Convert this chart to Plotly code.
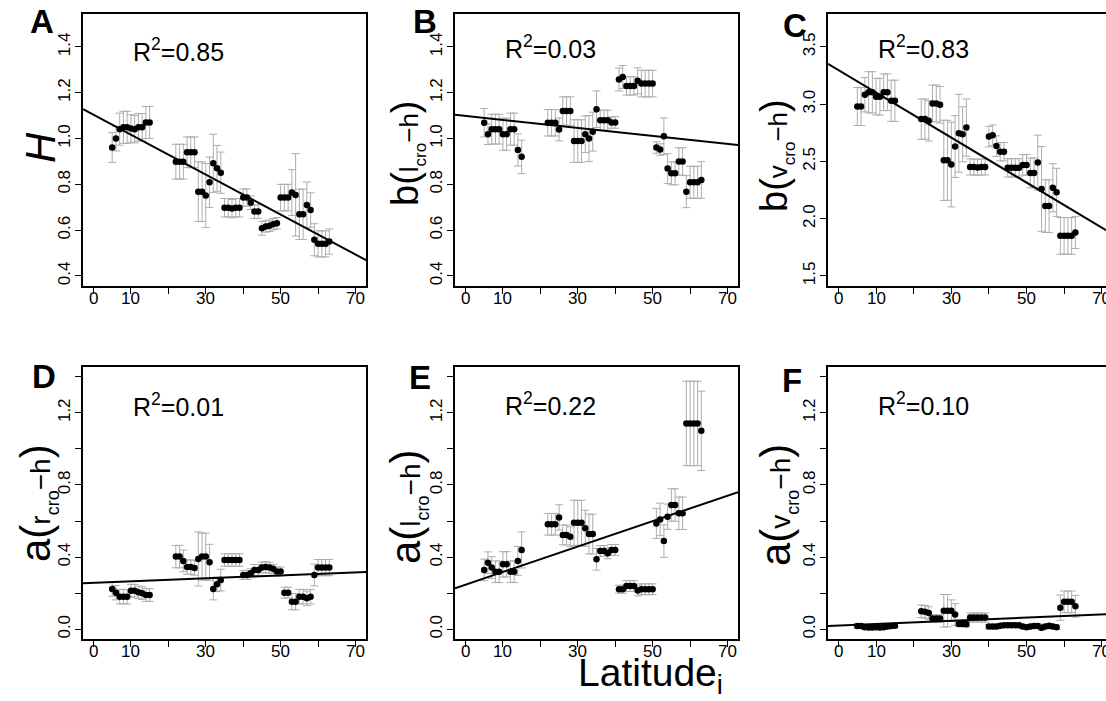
import plotly.graph_objects as go

# ---------------- data ----------------
lat = [5, 6, 7, 8, 9, 10, 11, 12, 13, 14, 15,
       22, 23, 24, 25, 26, 27, 28, 29, 30, 31, 32, 33, 34, 35, 36, 37, 38, 39, 40,
       41, 42, 43, 44, 45, 46, 47, 48, 49, 50, 51, 52, 53, 54, 55, 56, 57, 58, 59,
       60, 61, 62, 63]

H_val = [0.961, 1.00, 1.041, 1.049, 1.049, 1.044, 1.041, 1.049, 1.049, 1.07, 1.07,
         0.899, 0.899, 0.899, 0.94, 0.94, 0.94, 0.768, 0.768, 0.751, 0.809, 0.892, 0.870, 0.851,
         0.698, 0.698, 0.694, 0.698, 0.698, 0.742, 0.742, 0.72, 0.681, 0.681, 0.608, 0.616,
         0.619, 0.626, 0.63, 0.742, 0.742, 0.742, 0.764, 0.754, 0.669, 0.669, 0.71, 0.688,
         0.558, 0.54, 0.54, 0.54, 0.55]
H_err = [0.065, 0.054, 0.07, 0.07, 0.07, 0.06, 0.06, 0.06, 0.06, 0.07, 0.07,
         0.076, 0.076, 0.076, 0.067, 0.067, 0.067, 0.13, 0.13, 0.14, 0.11, 0.127, 0.10, 0.09,
         0.04, 0.04, 0.04, 0.04, 0.04, 0.038, 0.038, 0.03, 0.03, 0.03, 0.03, 0.025,
         0.025, 0.025, 0.025, 0.058, 0.058, 0.058, 0.10, 0.18, 0.11, 0.11, 0.10, 0.075,
         0.07, 0.057, 0.057, 0.057, 0.055]

bl_val = [1.069, 1.019, 1.041, 1.041, 1.041, 1.019, 1.019, 1.041, 1.041, 0.95, 0.92,
          1.069, 1.069, 1.069, 1.04, 1.12, 1.12, 1.12, 0.989, 0.989, 0.989, 1.019, 1.0, 1.03,
          1.128, 1.08, 1.08, 1.08, 1.07, 1.07, 1.258, 1.269, 1.23, 1.23, 1.23, 1.252,
          1.24, 1.24, 1.24, 1.24, 0.961, 0.952, 1.01, 0.869, 0.848, 0.848, 0.90, 0.90,
          0.768, 0.809, 0.809, 0.809, 0.819]
bl_err = [0.062, 0.045, 0.065, 0.065, 0.065, 0.07, 0.07, 0.07, 0.07, 0.07, 0.073,
          0.058, 0.058, 0.058, 0.05, 0.062, 0.062, 0.062, 0.093, 0.093, 0.093, 0.08, 0.10, 0.085,
          0.08, 0.044, 0.044, 0.044, 0.025, 0.025, 0.05, 0.05, 0.04, 0.04, 0.04, 0.057,
          0.058, 0.058, 0.058, 0.058, 0.025, 0.025, 0.08, 0.065, 0.05, 0.05, 0.06, 0.06,
          0.07, 0.07, 0.07, 0.07, 0.08]

bv_val = [2.98, 2.98, 3.083, 3.104, 3.104, 3.066, 3.066, 3.104, 3.104, 3.03, 3.03,
          2.87, 2.87, 2.855, 3.007, 3.007, 2.995, 2.51, 2.51, 2.473, 2.63, 2.746, 2.737, 2.796,
          2.452, 2.452, 2.448, 2.452, 2.452, 2.717, 2.728, 2.634, 2.585, 2.585, 2.444, 2.444,
          2.444, 2.444, 2.47, 2.47, 2.40, 2.40, 2.49, 2.26, 2.11, 2.11, 2.27, 2.23,
          1.85, 1.85, 1.85, 1.85, 1.88]
bv_err = [0.166, 0.166, 0.15, 0.18, 0.18, 0.16, 0.16, 0.16, 0.16, 0.18, 0.18,
          0.176, 0.176, 0.176, 0.16, 0.16, 0.16, 0.35, 0.35, 0.37, 0.27, 0.34, 0.24, 0.25,
          0.07, 0.07, 0.07, 0.07, 0.07, 0.09, 0.09, 0.09, 0.08, 0.08, 0.08, 0.08,
          0.08, 0.08, 0.09, 0.09, 0.13, 0.13, 0.24, 0.37, 0.23, 0.23, 0.21, 0.21,
          0.16, 0.16, 0.16, 0.16, 0.14]

ar_val = [0.223, 0.203, 0.181, 0.181, 0.181, 0.214, 0.214, 0.205, 0.20, 0.19, 0.19,
          0.403, 0.403, 0.379, 0.345, 0.345, 0.340, 0.39, 0.403, 0.403, 0.371, 0.223, 0.249, 0.273,
          0.384, 0.384, 0.384, 0.384, 0.384, 0.301, 0.301, 0.31, 0.329, 0.329, 0.342, 0.345,
          0.342, 0.335, 0.32, 0.32, 0.203, 0.203, 0.153, 0.153, 0.181, 0.181, 0.172, 0.181,
          0.301, 0.342, 0.342, 0.342, 0.342]
ar_err = [0.04, 0.04, 0.04, 0.04, 0.04, 0.035, 0.035, 0.035, 0.035, 0.035, 0.035,
          0.062, 0.062, 0.06, 0.04, 0.04, 0.04, 0.15, 0.13, 0.13, 0.10, 0.06, 0.04, 0.06,
          0.035, 0.035, 0.035, 0.035, 0.035, 0.025, 0.025, 0.025, 0.03, 0.03, 0.03, 0.03,
          0.03, 0.025, 0.025, 0.025, 0.03, 0.03, 0.045, 0.045, 0.04, 0.04, 0.04, 0.04,
          0.06, 0.045, 0.045, 0.045, 0.045]

al_val = [0.329, 0.369, 0.342, 0.319, 0.319, 0.36, 0.36, 0.319, 0.319, 0.379, 0.44,
          0.582, 0.582, 0.582, 0.62, 0.523, 0.523, 0.513, 0.59, 0.59, 0.59, 0.56, 0.528, 0.528,
          0.388, 0.434, 0.434, 0.421, 0.44, 0.44, 0.222, 0.222, 0.24, 0.24, 0.24, 0.215,
          0.222, 0.222, 0.222, 0.222, 0.587, 0.609, 0.489, 0.624, 0.689, 0.689, 0.643, 0.643,
          1.141, 1.141, 1.141, 1.141, 1.10]
al_err = [0.06, 0.06, 0.06, 0.06, 0.06, 0.07, 0.07, 0.06, 0.06, 0.08, 0.10,
          0.06, 0.06, 0.06, 0.07, 0.055, 0.055, 0.055, 0.125, 0.125, 0.125, 0.10, 0.11, 0.11,
          0.06, 0.03, 0.03, 0.03, 0.03, 0.03, 0.022, 0.022, 0.03, 0.03, 0.03, 0.03,
          0.03, 0.03, 0.03, 0.03, 0.083, 0.09, 0.09, 0.07, 0.09, 0.09, 0.09, 0.09,
          0.234, 0.234, 0.234, 0.234, 0.22]

av_val = [0.018, 0.018, 0.012, 0.01, 0.01, 0.012, 0.01, 0.012, 0.015, 0.018, 0.02,
          0.10, 0.097, 0.09, 0.06, 0.06, 0.06, 0.103, 0.103, 0.103, 0.082, 0.03, 0.03, 0.028,
          0.065, 0.065, 0.065, 0.065, 0.065, 0.015, 0.015, 0.015, 0.02, 0.022, 0.022, 0.022,
          0.022, 0.022, 0.015, 0.012, 0.015, 0.018, 0.018, 0.008, 0.015, 0.02, 0.015, 0.012,
          0.12, 0.152, 0.152, 0.152, 0.128]
av_err = [0.012, 0.012, 0.012, 0.012, 0.012, 0.012, 0.012, 0.012, 0.012, 0.012, 0.012,
          0.035, 0.035, 0.035, 0.02, 0.02, 0.02, 0.09, 0.09, 0.06, 0.06, 0.015, 0.015, 0.015,
          0.025, 0.025, 0.025, 0.025, 0.025, 0.012, 0.012, 0.012, 0.012, 0.012, 0.012, 0.012,
          0.012, 0.012, 0.012, 0.012, 0.012, 0.012, 0.012, 0.012, 0.012, 0.012, 0.012, 0.012,
          0.07, 0.06, 0.06, 0.06, 0.06]

# regression lines (intercept, slope) and R2 labels
fit_A = (1.104, -0.00872)
fit_B = (1.099, -0.00175)
fit_C = (3.298, -0.01965)
fit_D = (0.258, 0.00082)
fit_E = (0.2475, 0.00704)
fit_F = (0.0205, 0.00088)
r2_labels = ["0.85", "0.03", "0.83", "0.01", "0.22", "0.10"]

x_ticks = [0, 10, 20, 30, 40, 50, 60, 70]
x_ticktext = ["0", "10", "", "30", "", "50", "", "70"]

# ---------------- layout helpers ----------------
W, Hh = 1106, 701
FONT = "Liberation Sans, Arial, sans-serif"


def px_x(v):
    return v / W


def px_y(v):
    return 1 - v / Hh


def ylabel(main, sub, s1, s2):
    return (f'{main}(<span style="font-size:{s1}px">{sub}</span>'
            f'<sub><span style="font-size:{s2}px">cro</span></sub>'
            f'<span style="font-size:{s1}px">−h</span>)')


panels = [
    dict(letter="A", vals=H_val, errs=H_err, fit=fit_A, xd=(83, 366), yd=(14, 286),
         xr=(-2.8, 72.8), yr=(0.356, 1.544), yt=[0.4, 0.6, 0.8, 1.0, 1.2, 1.4],
         ytt=["0.4", "0.6", "0.8", "1.0", "1.2", "1.4"], r2y=1.385,
         ylab="<i>H</i>", ylab_pos=(40, 148), ylab_size=42, let_pos=(42, 21), mirror=True),
    dict(letter="B", vals=bl_val, errs=bl_err, fit=fit_B, xd=(455, 738), yd=(14, 286),
         xr=(-2.8, 72.8), yr=(0.356, 1.544), yt=[0.4, 0.6, 0.8, 1.0, 1.2, 1.4],
         ytt=["0.4", "0.6", "0.8", "1.0", "1.2", "1.4"], r2y=1.40,
         ylab=ylabel("b", "l", 26, 17), ylab_pos=(407, 153), ylab_size=38,
         let_pos=(425, 22), mirror=True),
    dict(letter="C", vals=bv_val, errs=bv_err, fit=fit_C, xd=(828, 1106), yd=(14, 286),
         xr=(-2.8, 71.14), yr=(1.412, 3.788), yt=[1.5, 2.0, 2.5, 3.0, 3.5],
         ytt=["1.5", "2.0", "2.5", "3.0", "3.5"], r2y=3.50,
         ylab=ylabel("b", "v", 26, 17), ylab_pos=(776, 155), ylab_size=38,
         let_pos=(795, 26), mirror=False),
    dict(letter="D", vals=ar_val, errs=ar_err, fit=fit_D, xd=(83, 366), yd=(366.6, 639.4),
         xr=(-2.8, 72.8), yr=(-0.056, 1.456), yt=[0, 0.2, 0.4, 0.6, 0.8, 1.0, 1.2, 1.4],
         ytt=["0.0", "", "0.4", "", "0.8", "", "1.2", ""], r2y=1.245,
         ylab=ylabel("a", "r", 28, 18), ylab_pos=(37, 503), ylab_size=42,
         let_pos=(44, 376), mirror=True),
    dict(letter="E", vals=al_val, errs=al_err, fit=fit_E, xd=(455, 738), yd=(366.6, 639.4),
         xr=(-2.8, 72.8), yr=(-0.056, 1.456), yt=[0, 0.2, 0.4, 0.6, 0.8, 1.0, 1.2, 1.4],
         ytt=["0.0", "", "0.4", "", "0.8", "", "1.2", ""], r2y=1.25,
         ylab=ylabel("a", "l", 28, 18), ylab_pos=(407, 507), ylab_size=42,
         let_pos=(420, 378), mirror=True),
    dict(letter="F", vals=av_val, errs=av_err, fit=fit_F, xd=(828, 1106), yd=(366.6, 639.4),
         xr=(-2.8, 71.14), yr=(-0.056, 1.456), yt=[0, 0.2, 0.4, 0.6, 0.8, 1.0, 1.2, 1.4],
         ytt=["0.0", "", "0.4", "", "0.8", "", "1.2", ""], r2y=1.25,
         ylab=ylabel("a", "v", 28, 18), ylab_pos=(777, 505), ylab_size=42,
         let_pos=(792, 380), mirror=False),
]

fig = go.Figure()
annotations = []
layout_axes = {}

for i, p in enumerate(panels, start=1):
    xa = "x" if i == 1 else f"x{i}"
    ya = "y" if i == 1 else f"y{i}"
    xkey = "xaxis" if i == 1 else f"xaxis{i}"
    ykey = "yaxis" if i == 1 else f"yaxis{i}"

    # error bars + points
    fig.add_trace(go.Scatter(
        x=lat, y=p["vals"], mode="markers", xaxis=xa, yaxis=ya,
        marker=dict(color="black", size=6.5),
        error_y=dict(type="data", array=p["errs"], visible=True,
                     color="#adadad", thickness=1, width=4),
        showlegend=False, hoverinfo="skip"))

    # regression line across the plotting region
    b0, b1 = p["fit"]
    x0, x1 = p["xr"]
    fig.add_trace(go.Scatter(
        x=[x0, x1], y=[b0 + b1 * x0, b0 + b1 * x1], mode="lines",
        xaxis=xa, yaxis=ya, line=dict(color="black", width=2),
        showlegend=False, hoverinfo="skip", cliponaxis=True))

    axis_common = dict(showline=True, linecolor="black", linewidth=1.5,
                       ticks="outside", ticklen=6, tickwidth=1.2, tickcolor="black",
                       showgrid=False, zeroline=False,
                       tickfont=dict(family=FONT, size=17, color="black"))
    layout_axes[xkey] = dict(domain=[px_x(p["xd"][0]), px_x(p["xd"][1])],
                             range=list(p["xr"]), anchor=ya, mirror=True,
                             tickmode="array", tickvals=x_ticks,
                             showticklabels=False, **axis_common)
    layout_axes[ykey] = dict(domain=[px_y(p["yd"][1]), px_y(p["yd"][0])],
                             range=list(p["yr"]), anchor=xa, mirror=p["mirror"],
                             tickmode="array", tickvals=p["yt"], ticktext=p["ytt"],
                             tickangle=-90, ticklabelstandoff=-2, **axis_common)

    # x tick labels placed close to the axis (as in the reference)
    for tv, tt in zip(x_ticks, x_ticktext):
        if tt:
            annotations.append(dict(
                x=tv, xref=xa, y=px_y(p["yd"][1] + 12), yref="paper",
                xanchor="center", yanchor="middle", text=tt, showarrow=False,
                font=dict(family=FONT, size=17, color="black")))

    # R^2 label
    annotations.append(dict(
        x=10, y=p["r2y"], xref=xa, yref=ya, xanchor="left", yanchor="middle",
        text=f"R<sup>2</sup>={r2_labels[i-1]}", showarrow=False,
        font=dict(family=FONT, size=25, color="black")))

    # panel letter
    annotations.append(dict(
        x=px_x(p["let_pos"][0]), y=px_y(p["let_pos"][1]), xref="paper", yref="paper",
        xanchor="center", yanchor="middle", text=f"<b>{p['letter']}</b>",
        showarrow=False, font=dict(family=FONT, size=33, color="black")))

    # y-axis label
    annotations.append(dict(
        x=px_x(p["ylab_pos"][0]), y=px_y(p["ylab_pos"][1]), xref="paper", yref="paper",
        xanchor="center", yanchor="middle", text=p["ylab"], textangle=-90,
        showarrow=False, font=dict(family=FONT, size=p["ylab_size"], color="black")))

# common x label
annotations.append(dict(
    x=px_x(650), y=px_y(675), xref="paper", yref="paper", xanchor="center",
    yanchor="middle", text="Latitude<sub>i</sub>", showarrow=False,
    font=dict(family=FONT, size=39, color="black")))

fig.update_layout(
    width=W, height=Hh, margin=dict(l=0, r=0, t=0, b=0),
    paper_bgcolor="white", plot_bgcolor="white",
    annotations=annotations, **layout_axes)

fig.write_html("out.html")
